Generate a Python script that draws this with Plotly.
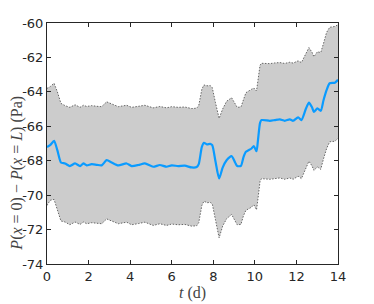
import plotly.graph_objects as go

# time (days)
t = [0.0, 0.15, 0.34, 0.5, 0.67, 0.87, 1.1, 1.35, 1.59, 1.75, 1.91, 2.15, 2.4, 2.63,
     2.87, 3.11, 3.43, 3.83, 4.07, 4.4, 4.71, 5.11, 5.43, 5.75, 6.0, 6.31, 6.63, 6.96,
     7.2, 7.3, 7.45, 7.55, 7.7, 7.85, 7.95, 8.1, 8.28, 8.45, 8.64, 8.88, 9.05, 9.15,
     9.33, 9.45, 9.57, 9.84, 9.95, 10.08, 10.15, 10.25, 10.32, 10.72, 10.96, 11.2, 11.44,
     11.68, 11.84, 12.08, 12.24, 12.45, 12.6, 12.75, 12.84, 13.01, 13.17, 13.3, 13.45,
     13.6, 13.85, 14.0]

# mean pressure drop (Pa)
p_mean = [-67.2, -67.1, -66.85, -67.4, -68.1, -68.16, -68.31, -68.16, -68.31, -68.16,
          -68.27, -68.2, -68.24, -68.27, -67.97, -68.1, -68.27, -68.16, -68.31, -68.25,
          -68.16, -68.35, -68.25, -68.35, -68.27, -68.31, -68.29, -68.39, -68.37, -68.2,
          -67.2, -66.96, -67.05, -67.02, -67.1, -68.0, -69.03, -68.4, -67.97, -67.73,
          -68.1, -68.31, -68.3, -67.8, -67.48, -67.29, -67.15, -67.45, -66.8, -65.8,
          -65.64, -65.68, -65.64, -65.6, -65.68, -65.6, -65.68, -65.48, -65.64, -65.0,
          -64.63, -64.9, -65.16, -64.96, -65.1, -64.5, -63.9, -63.5, -63.47, -63.3]

# upper bound of the band (Pa)
p_upper = [-63.8, -63.7, -63.5, -64.0, -64.67, -64.8, -64.9, -64.75, -64.9, -64.78,
           -64.85, -64.8, -64.84, -64.86, -64.58, -64.7, -64.86, -64.78, -64.9, -64.84,
           -64.78, -64.93, -64.85, -64.93, -64.86, -64.9, -64.88, -64.97, -64.95, -64.8,
           -63.85, -63.6, -63.65, -63.63, -63.75, -64.6, -65.54, -65.0, -64.55, -64.34,
           -64.7, -64.9, -64.88, -64.4, -64.05, -63.85, -63.78, -63.95, -63.4, -62.45,
           -62.34, -62.36, -62.32, -62.3, -62.35, -62.28, -62.33, -62.2, -62.3, -61.75,
           -61.43, -61.7, -61.96, -61.67, -61.72, -61.2, -60.55, -60.25, -60.2, -60.1]

# lower bound of the band (Pa)
p_lower = [-70.6, -70.3, -70.25, -70.8, -71.5, -71.56, -71.72, -71.56, -71.7, -71.56,
           -71.66, -71.6, -71.64, -71.66, -71.38, -71.5, -71.66, -71.57, -71.72, -71.65,
           -71.57, -71.76, -71.66, -71.76, -71.68, -71.72, -71.7, -71.8, -71.78, -71.6,
           -70.6, -70.35, -70.44, -70.42, -70.5, -71.4, -72.48, -71.8, -71.37, -71.12,
           -71.5, -71.72, -71.7, -71.2, -70.88, -70.7, -70.55, -70.85, -70.2, -69.2,
           -69.04, -69.08, -69.04, -69.0, -69.08, -69.0, -69.08, -68.9, -69.04, -68.4,
           -68.03, -68.3, -68.56, -68.36, -68.5, -67.9, -67.3, -66.9, -66.87, -66.7]

x_ticks = [0, 2, 4, 6, 8, 10, 12, 14]
y_ticks = [-74, -72, -70, -68, -66, -64, -62, -60]
y_tick_labels = ['-74', '-72', '-70', '-68', '-66', '-64', '-62', '-60']

band_line = dict(color='#666666', width=1, dash='1.5px,1.5px')

fig = go.Figure()

fig.add_trace(go.Scatter(x=t, y=p_lower, mode='lines', showlegend=False, line=band_line))
fig.add_trace(go.Scatter(x=t, y=p_upper, mode='lines', showlegend=False,
                         fill='tonexty', fillcolor='#cccccc', line=band_line))
fig.add_trace(go.Scatter(x=t, y=p_mean, mode='lines', showlegend=False,
                         line=dict(color='#0a9bff', width=2.2, shape='spline',
                                   smoothing=0.6)))

axis_style = dict(showline=True, linecolor='#262626', linewidth=1, mirror='ticks',
                  ticks='inside', ticklen=4, tickcolor='#262626', showgrid=False,
                  zeroline=False, automargin=False,
                  tickfont=dict(family='DejaVu Sans', size=13, color='#262626'))

fig.update_xaxes(range=[0, 14], tickvals=x_ticks, ticktext=[str(v) for v in x_ticks],
                 **axis_style)
fig.update_yaxes(range=[-74, -60], tickvals=y_ticks, ticktext=y_tick_labels,
                 **axis_style)

title_font = dict(family='Liberation Serif', size=16, color='#444444')
# axis titles as annotations so they sit where the original puts them
fig.add_annotation(text='<i>P</i>(<i>x</i> = 0) − <i>P</i>(<i>x</i> = <i>L</i>) (Pa)',
                   xref='paper', yref='paper', x=0, y=0.375, xshift=-30,
                   xanchor='center', yanchor='middle', textangle=-90,
                   showarrow=False, font=title_font)
fig.add_annotation(text='<i>t</i> (d)', xref='paper', yref='paper', x=0.5, y=0,
                   yshift=-29, xanchor='center', yanchor='middle',
                   showarrow=False, font=title_font)

fig.update_layout(width=366, height=296, paper_bgcolor='white', plot_bgcolor='white',
                  margin=dict(l=39, r=36, t=15, b=40))

fig.write_html('out.html')
